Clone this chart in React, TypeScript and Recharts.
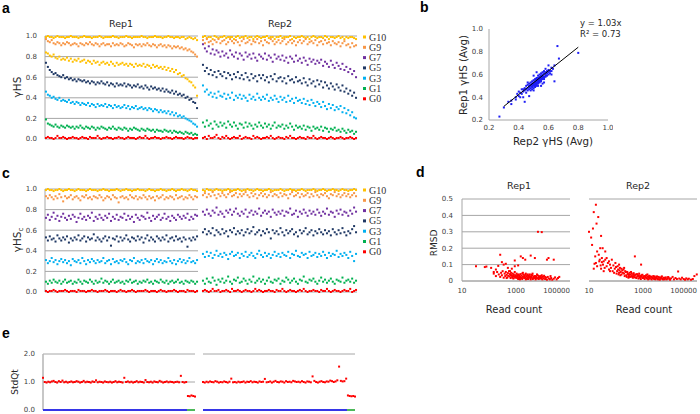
import React from "react";
import { ScatterChart, Scatter, XAxis, YAxis, CartesianGrid } from "recharts";

// ---- panel a / c: groups, colours ----
const groupLabels = ["G10", "G9", "G7", "G5", "G3", "G1", "G0"];
const groupColors = ["#FFC000", "#F79646", "#7030A0", "#1F3864", "#00B0F0", "#00B050", "#FF0000"];
// Rep1 in panel a draws G7 in the same gold as G10
const aRep1Colors = ["#FFC000", "#F79646", "#FFC000", "#1F3864", "#00B0F0", "#00B050", "#FF0000"];
const unitTicks = [0, 0.2, 0.4, 0.6, 0.8, 1.0];

// panel a, Rep1 (values x100, sorted genes left to right)
const a1G10 = [99,100,99,99,98,99,100,99,99,99, 98,99,99,100,99,99,99,98,99,99, 100,99,99,99,98,99,99,99,100,99, 98,99,99,99,99,100,99,99,98,99, 99,99,100,99,99,98,99,99,99,99, 100,99,99,98,99,99,99,100,99,99, 99,98,99,99,100,99,99,98,99,99, 98,99,99,97,98,99,98,97,98,96];
const a1G9 = [97,95,94,96,93,92,94,93,91,93, 92,94,93,91,92,93,92,90,93,92, 91,93,92,94,92,91,93,92,90,92, 93,91,92,92,90,93,91,92,91,93, 92,90,91,93,92,91,89,92,91,92, 90,92,91,93,91,90,92,91,89,91, 92,90,91,89,91,90,88,90,89,90, 88,89,87,88,86,87,85,84,82,80];
const a1G7 = [84,83,81,80,82,79,78,80,77,78, 77,79,76,78,75,77,76,78,75,76, 77,74,76,75,73,76,74,75,72,74, 75,73,74,72,75,73,71,74,72,73, 74,72,73,71,73,72,70,73,71,72, 71,73,70,72,71,69,72,70,71,69, 70,68,70,67,69,66,68,65,67,63, 64,61,62,59,58,56,55,52,50,42];
const a1G5 = [74,70,67,65,63,64,62,61,60,62, 59,60,58,59,57,58,56,58,57,56, 57,55,56,54,56,55,53,55,54,56, 54,53,55,52,54,53,51,54,52,53, 52,54,51,53,52,50,52,51,53,50, 51,49,52,50,48,51,49,50,48,49, 47,49,46,48,46,45,47,44,46,43, 44,42,43,40,41,38,39,36,35,30];
const a1G3 = [46,43,42,40,41,39,38,40,37,38, 37,36,38,35,36,34,36,35,33,35, 34,33,35,32,34,33,31,34,32,33, 32,34,31,33,32,30,33,31,32,30, 31,33,30,32,29,31,30,32,29,30, 31,29,30,28,30,29,27,29,28,26, 28,26,27,25,27,24,26,23,25,22, 23,21,22,20,19,18,17,15,14,12];
const a1G1 = [19,15,14,13,12,14,12,11,13,12, 11,13,12,11,12,10,12,11,13,11, 10,12,11,10,12,11,9,11,10,12, 11,10,9,11,10,12,10,9,11,10, 9,11,10,8,10,9,11,10,9,8, 10,9,8,10,9,8,9,7,9,8, 8,7,9,8,7,8,6,8,7,6, 7,6,5,7,6,5,6,4,5,4];
const a1G0 = [1,2,1,1,0,1,3,1,1,2, 1,0,1,1,2,1,1,0,1,2, 1,1,0,2,1,1,1,3,1,0, 1,1,2,1,1,0,1,1,2,1, 1,0,1,2,1,1,1,0,1,2, 1,1,3,1,0,1,1,2,1,1, 0,1,1,2,1,1,0,1,2,1, 1,1,0,1,2,1,1,0,1,1];

// panel a, Rep2
const a2G10 = [99,100,98,99,99,97,100,99,98,99, 99,100,98,99,99,99,97,99,100,98, 99,99,100,98,99,99,97,99,100,99, 98,99,99,100,98,99,99,97,99,99, 100,98,99,99,99,100,97,99,98,99, 99,100,99,98,99,97,99,100,99,98, 99,99,98,100,99,97,99,99,98,99, 100,98,99,97,99,98,99,99,98,97];
const a2G9 = [96,93,97,94,95,92,96,94,97,93, 95,96,92,94,97,95,93,96,94,91, 95,97,93,94,96,92,95,94,97,93, 95,91,96,94,93,97,95,92,94,96, 93,95,97,92,94,96,93,95,91,94, 96,93,95,97,92,94,95,93,96,91, 94,95,92,96,93,94,91,95,93,92, 94,90,93,95,91,92,89,93,90,91];
const a2G7 = [92,88,85,90,83,87,82,86,84,80, 85,81,83,79,86,82,80,84,78,83, 81,77,84,80,82,78,83,79,76,82, 80,78,83,77,81,79,75,82,78,80, 77,81,76,79,74,80,78,75,81,76, 78,74,79,76,72,78,75,77,73,76, 74,77,71,75,73,70,76,72,69,74, 71,68,73,67,70,65,68,63,66,60];
const a2G5 = [72,66,69,63,67,62,65,60,66,63, 61,65,59,64,62,58,63,60,65,59, 62,58,64,60,57,63,59,61,56,62, 59,62,57,60,55,61,58,63,56,59, 60,56,59,54,61,57,58,55,60,56, 57,54,59,55,52,58,54,56,51,57, 53,56,50,55,52,49,54,51,48,53, 50,47,52,46,49,44,47,42,45,40];
const a2G3 = [52,46,48,43,45,41,44,40,46,42, 41,44,39,43,40,45,38,42,40,43, 39,42,40,37,43,39,41,38,44,40, 38,41,39,43,37,40,38,42,39,36, 41,38,40,36,42,37,39,35,40,37, 38,35,39,34,37,33,38,35,32,36, 34,31,36,32,29,34,30,33,28,31, 29,32,26,30,25,28,23,26,21,20];
const a2G1 = [16,12,18,13,15,10,17,14,12,16, 13,15,11,17,14,12,16,13,10,15, 14,11,16,12,15,13,10,14,12,16, 13,11,15,12,14,10,13,16,11,13, 12,14,10,13,11,15,12,9,13,11, 12,10,13,9,12,11,8,12,10,11, 9,12,8,11,10,7,10,9,11,8, 9,7,10,8,6,9,7,8,5,7];
const a2G0 = [1,2,0,3,1,1,2,4,1,0, 2,1,3,1,0,1,2,1,1,3, 0,1,2,1,1,0,3,1,2,1, 0,1,1,2,1,3,1,0,1,2, 1,1,0,2,1,3,1,1,0,1, 2,1,1,0,2,1,1,3,1,0, 1,2,1,1,0,1,2,1,0,1, 1,2,1,0,1,1,2,1,0,1];

// panel c, Rep1 (corrected)
const c1G10 = [99,100,99,99,98,99,99,100,99,98, 99,99,100,99,99,98,99,100,99,99, 99,98,99,100,99,99,99,98,99,99, 100,99,99,98,99,99,99,100,99,98, 99,99,100,99,99,98,99,99,100,99, 99,99,98,99,100,99,99,98,99,99, 100,99,99,98,99,99,100,99,98,99, 99,100,99,99,98,99,100,99,99,98];
const c1G9 = [93,91,94,92,90,93,91,95,92,88, 93,91,92,94,90,92,93,91,89,93, 92,94,91,92,90,93,92,91,94,92, 89,91,93,92,90,94,92,91,87,92, 93,91,92,90,94,92,91,93,90,92, 91,94,92,90,93,91,92,89,93,91, 92,94,90,92,91,93,92,90,94,91, 92,93,90,92,91,94,92,90,93,92];
const c1G7 = [72,75,70,73,77,71,74,69,73,76, 72,70,74,71,75,73,68,72,76,71, 73,70,74,72,77,69,73,71,75,72, 70,74,72,76,69,73,71,75,70,73, 72,76,70,74,71,73,68,75,72,70, 74,73,71,77,72,69,74,71,73,75, 70,72,76,71,73,69,74,72,70,75, 73,71,74,72,76,70,73,71,75,74];
const c1G5 = [53,50,54,51,52,49,55,52,50,53, 51,54,48,52,50,53,51,55,50,52, 54,49,53,51,52,56,50,53,51,49, 52,54,50,53,45,52,51,54,49,53, 50,52,55,51,49,53,52,50,54,51, 53,48,52,55,50,53,51,49,54,52, 50,53,51,55,49,52,53,50,54,51, 52,49,53,51,44,52,50,53,51,54];
const c1G3 = [31,28,30,33,29,31,27,30,32,29, 31,28,30,26,32,30,29,31,28,33, 30,27,31,29,32,30,28,31,29,30, 33,28,30,31,27,32,29,30,28,31, 30,32,29,27,31,30,33,28,30,29, 31,28,32,30,29,31,27,30,32,29, 31,28,30,29,33,30,28,31,27,30, 32,29,31,28,30,33,29,30,28,31];
const c1G1 = [10,8,11,9,12,10,9,11,8,10, 12,9,10,11,8,10,9,12,10,8, 11,10,9,12,10,8,11,9,10,13, 9,11,10,8,10,12,9,10,11,9, 10,8,11,10,12,9,10,11,8,10, 9,11,10,12,9,10,8,11,10,9, 12,10,9,11,8,10,11,9,10,12, 9,10,8,11,10,9,11,10,8,10];
const c1G0 = [1,0,1,1,2,1,0,1,1,1, 2,1,0,1,1,1,0,2,1,1, 1,0,1,1,2,1,1,0,1,1, 1,2,1,0,1,1,1,0,1,2, 1,1,0,1,1,2,1,0,1,1, 1,1,2,1,0,1,1,1,0,1, 2,1,1,0,1,1,1,2,1,0, 1,1,1,0,2,1,1,1,0,1];

// panel c, Rep2
const c2G10 = [99,98,100,99,99,98,99,100,99,99, 98,99,99,100,99,98,99,99,100,99, 98,99,99,100,99,99,98,99,100,99, 99,98,99,99,100,99,98,99,99,99, 100,99,98,99,99,100,99,99,98,99, 99,100,99,98,99,99,99,100,99,98, 99,99,100,99,98,99,99,100,99,99, 98,99,100,99,99,98,99,99,100,99];
const c2G9 = [94,96,92,95,93,97,94,91,95,93, 96,94,92,95,97,93,94,96,92,95, 93,95,97,94,92,96,93,95,91,94, 96,93,95,92,94,97,93,95,94,92, 96,93,95,94,91,95,97,93,94,96, 92,95,93,94,96,92,95,93,97,94, 92,95,94,96,93,91,95,94,97,93, 95,92,94,96,93,95,92,94,96,93];
const c2G7 = [78,75,80,76,74,79,77,82,75,78, 76,73,79,77,80,75,78,81,76,74, 78,76,80,73,77,79,75,78,76,81, 74,77,79,76,78,73,80,77,75,78, 76,79,74,78,77,81,75,76,79,73, 78,76,80,77,74,79,76,78,75,80, 77,74,78,76,81,75,78,77,73,79, 76,80,75,78,77,74,79,76,82,78];
const c2G5 = [58,61,56,59,57,62,55,60,58,56, 61,57,59,54,60,58,62,56,59,57, 60,55,58,61,57,59,63,56,58,60, 55,59,57,61,58,52,60,57,59,56, 62,58,55,60,57,59,61,56,58,54, 60,57,59,62,56,58,60,55,59,57, 61,58,56,60,57,59,55,61,58,56, 60,57,62,58,55,59,57,61,64,58];
const c2G3 = [37,34,39,35,38,33,36,40,35,37, 34,38,36,32,37,39,35,36,38,33, 37,35,39,34,36,38,35,33,37,40, 36,34,38,35,37,33,36,39,35,37, 34,38,36,35,39,33,37,36,40,35, 34,38,36,37,33,39,35,36,38,34, 37,35,39,36,33,38,35,37,36,40, 34,37,35,38,36,33,39,35,30,37];
const c2G1 = [11,8,13,10,9,14,11,7,12,10, 13,9,11,15,10,8,12,11,14,9, 10,13,11,8,12,10,15,9,11,13, 10,12,8,11,14,10,9,12,11,13, 8,11,10,14,12,9,11,13,10,8, 12,11,15,10,9,12,11,13,10,8, 11,14,10,12,9,11,13,10,8,12, 11,10,14,9,11,12,10,13,9,11];
const c2G0 = [1,2,1,0,1,3,1,1,2,0, 1,1,2,1,0,3,1,1,2,1, 0,1,2,1,1,0,1,3,1,2, 1,0,1,1,2,1,1,0,2,1, 1,3,1,0,1,2,1,1,0,1, 2,1,3,1,0,1,1,2,1,1, 0,2,1,1,3,1,0,1,2,1, 1,0,1,2,1,1,3,0,1,2];

const aRep1 = [a1G10, a1G9, a1G7, a1G5, a1G3, a1G1, a1G0];
const aRep2 = [a2G10, a2G9, a2G7, a2G5, a2G3, a2G1, a2G0];
const cRep1 = [c1G10, c1G9, c1G7, c1G5, c1G3, c1G1, c1G0];
const cRep2 = [c2G10, c2G9, c2G7, c2G5, c2G3, c2G1, c2G0];
const GENE_COUNT = 80;

// ---- panel b: [Rep2 avg, Rep1 avg] x100 ----
const bAvgPairs = [
  [27,23],[30,31],[33,36],[35,37],[35,34],[38,40],[39,43],[40,45],[40,41],[41,44],
  [42,47],[42,43],[43,40],[43,45],[44,46],[44,48],[44,36],[45,47],[45,50],[45,44],
  [46,48],[46,46],[46,51],[47,49],[47,50],[47,47],[47,52],[48,50],[48,48],[48,53],
  [48,46],[48,51],[49,49],[49,52],[49,50],[49,54],[49,47],[49,51],[50,50],[50,53],
  [50,48],[50,55],[50,51],[50,52],[50,46],[51,54],[51,52],[51,53],[51,50],[51,56],
  [51,51],[51,49],[52,55],[52,53],[52,52],[52,57],[52,50],[52,54],[52,56],[52,51],
  [53,55],[53,53],[53,57],[53,54],[53,52],[53,59],[53,50],[53,56],[54,55],[54,58],
  [54,53],[54,56],[54,57],[54,60],[54,54],[55,57],[55,59],[55,56],[55,61],[55,55],
  [55,58],[55,54],[56,57],[56,60],[56,58],[56,62],[56,56],[56,59],[57,58],[57,61],
  [57,57],[57,63],[57,56],[58,60],[58,59],[58,62],[58,58],[59,61],[59,63],[59,59],
  [60,62],[60,60],[60,64],[61,63],[61,61],[62,63],[62,66],[63,65],[64,54],[64,68],
  [66,85],[67,74],[62,60],[58,65],[55,50],[46,53],[43,47],[50,59],[56,52],[60,68],
  [80,79],[47,41],[52,62],[57,53],[41,40],[38,38],
];
const bTrendX = [30, 80];
const bTrendY = [32, 84];
const bTicks = [0.2, 0.4, 0.6, 0.8, 1.0];

// ---- panel d: [read count, RMSD x1000] ----
const dRep1Pairs = [
  [33,90],[70,85],[80,88],[120,80],[150,55],[180,70],[220,92],[260,160],[300,115],[350,100],
  [420,105],[600,60],[900,125],[1500,150],[1800,140],[2200,130],[3500,155],[5000,140],[6500,300],[9000,298],
  [14000,130],[16000,140],[25000,130],[900,90],[1200,95],[700,75],[500,80],
  [150,45],[180,30],[200,55],[230,40],[260,25],[280,50],[300,35],[320,60],[350,20],[380,45],[400,30],
  [420,55],[450,38],[480,22],[500,48],[520,32],[550,60],[580,28],[600,42],[630,18],[660,50],[700,35],
  [720,25],[750,45],[780,30],[800,15],[830,40],[860,28],[900,55],[930,20],[960,35],[1000,25],[1050,45],
  [1100,18],[1150,30],[1200,40],[1250,22],[1300,35],[1350,15],[1400,28],[1450,42],[1500,20],[1600,32],
  [1700,12],[1800,25],[1900,38],[2000,18],[2100,30],[2200,22],[2300,45],[2400,15],[2500,28],[2600,35],
  [2700,20],[2800,12],[2900,30],[3000,24],[3200,40],[3400,16],[3600,28],[3800,20],[4000,35],[4200,12],
  [4400,25],[4600,18],[4800,30],[5000,22],[5300,10],[5600,28],[6000,15],[6300,35],[6600,20],[7000,12],
  [7400,25],[7800,18],[8200,30],[8600,14],[9000,22],[9500,10],[10000,26],[10500,16],[11000,32],[12000,12],
  [13000,20],[14000,8],[15000,25],[16500,15],[18000,10],[20000,18],[22000,8],[25000,14],[28000,22],[32000,10],
  [36000,18],[40000,25],[1100,35],[1300,22],[1600,18],[2000,28],[2500,14],[3000,32],[3500,10],[4500,20],
  [5500,18],[7000,30],[8500,20],[1700,45],[2200,38],[900,28],[650,35],[1400,10],[2700,40],[6000,40],
  [9000,35],[12000,24],[2300,10],[3300,22],[4100,45],[750,20],[1200,12],[19000,30],[450,18],[1800,50],
  [3700,38],[5200,30],
];
const dRep2Pairs = [
  [10,300],[12,265],[13,220],[14,320],[15,420],[17,150],[18,465],[19,350],[20,180],[22,390],
  [24,120],[26,200],[28,275],[30,140],[16,105],[15,75],[18,110],[20,90],[23,160],[25,130],
  [27,95],[30,115],[33,100],[35,120],[38,80],[40,130],[45,90],[50,110],[55,70],[60,100],
  [65,80],[70,130],[75,60],[80,95],[90,75],[100,85],[110,60],[120,70],[130,50],[140,80],
  [150,55],[160,40],[170,65],[180,50],[200,45],[220,60],[240,35],[260,55],[280,40],[300,30],
  [320,50],[350,38],[380,45],[400,25],[430,40],[460,30],[500,150],[500,35],[550,22],[600,42],
  [650,28],[700,35],[750,20],[800,30],[850,100],[900,25],[950,38],[1000,18],[1100,30],[1200,22],
  [1300,35],[1400,15],[1500,28],[1600,20],[1700,32],[1800,14],[2000,25],[2200,18],[2400,30],[2600,12],
  [2800,22],[3000,16],[3300,28],[3600,10],[4000,20],[4400,14],[4800,25],[5200,12],[5700,18],[6200,10],
  [7000,22],[8000,14],[9000,20],[10000,8],[11000,16],[12500,25],[14000,10],[16000,18],[18000,12],[20000,58],
  [22000,15],[25000,10],[28000,20],[32000,12],[36000,8],[40000,16],[45000,10],[50000,14],[60000,8],[70000,12],
  [80000,30],[98000,40],
  [60,60],[85,50],[95,110],[105,45],[115,90],[125,40],[135,65],[145,35],[190,70],[210,30],
  [230,55],[250,25],[270,45],[290,20],[310,40],[330,25],[360,55],[390,30],[420,20],[450,48],
  [480,22],[520,40],[570,18],[620,30],[680,15],[720,45],[780,25],[830,12],[880,35],[1050,25],
  [1150,12],[1250,30],[1350,20],[1450,40],[1550,10],[1650,25],[1750,18],[1900,28],[2100,10],[2300,22],
  [2500,16],[2700,28],[2900,10],[3200,20],[3500,14],[3800,25],[4200,8],[4600,18],[5000,28],[5500,10],
  [6000,20],[6600,14],[7500,10],[8500,24],[9500,12],[40,180],[35,60],[45,140],[55,120],[32,200],
  [28,75],[130,100],[160,75],[200,80],
];
const dXTicks = [10, 1000, 100000];
const dYTicks = [0, 0.1, 0.2, 0.3, 0.4, 0.5];

// ---- panel e: StdQt x100 ----
const eRep1 = [
  115,100,98,101,99,102,104,100,98,103,100,105,99,101,98,100,102,99,100,103,
  101,98,100,104,99,101,100,98,102,100,106,99,101,100,98,102,100,99,101,98,
  100,103,99,101,100,98,115,100,102,99,101,98,100,103,99,101,100,98,107,100,
  99,101,98,102,100,99,104,101,98,100,102,99,101,100,98,100,101,99,122,100,
  98,100, 50,49,52,50,48,
];
const eRep2 = [
  100,98,101,99,102,100,99,103,101,98,100,99,102,100,98,101,112,99,100,98,
  101,99,100,102,98,101,100,103,99,101,100,98,102,100,101,111,99,100,102,98,
  101,104,100,99,102,101,98,103,100,101,99,104,102,100,101,99,103,100,98,102,
  101,99,120,104,100,98,101,103,100,99,102,101,105,103,100,102,106,155,104,102,
  103,112, 52,50,49,50,48,
];
const eSegments = [0, 81.5, 86]; // blue class up to the break, green after
const eTicks = [0, 1, 2];

// ---- helpers ----
const GRID = "#A6A6A6";
const SANS = "DejaVu Sans";
const tickStyle = { fontSize: 7, fill: "#404040", fontFamily: SANS };
const f1 = (v: number) => v.toFixed(1);

const square = (color: string, size = 2) => (p: any) => (
  <rect x={p.cx - size / 2} y={p.cy - size / 2} width={size} height={size} fill={color} />
);
const noShape = () => <g />;
const toPoints = (vals: number[], div = 100) => vals.map((v, i) => ({ x: i, y: v / div }));
const pairPoints = (pairs: number[][], xd: number, yd: number) =>
  pairs.map(([x, y]) => ({ x: x / xd, y: y / yd }));

function GroupPanel({ left, top, series, colors, first }: any) {
  const yw = first ? 45 : 0;
  const ml = first ? 0 : 2;
  const pw = first ? 153 : 155;
  return (
    <div style={{ position: "absolute", left, top }}>
      <ScatterChart width={ml + yw + pw + 2} height={118} margin={{ top: 10, right: 2, bottom: 5, left: ml }}>
        <CartesianGrid vertical={false} stroke={GRID} />
        <XAxis type="number" dataKey="x" domain={[-0.5, GENE_COUNT - 0.5]} hide />
        <YAxis
          type="number" dataKey="y" domain={[0, 1]} ticks={unitTicks} interval={0}
          width={yw} tick={first ? tickStyle : false} tickFormatter={f1}
          tickLine={false} tickSize={0} tickMargin={8} axisLine={{ stroke: GRID }}
        />
        {series.map((vals: number[], i: number) => (
          <Scatter key={i} data={toPoints(vals)} fill={colors[i]} shape={square(colors[i])} isAnimationActive={false} />
        ))}
      </ScatterChart>
    </div>
  );
}

const logTick = (p: any) => {
  const v = p.payload.value;
  return (
    <text x={p.x} y={p.y} dy="0.71em" textAnchor={v === 100000 ? "end" : "middle"} {...tickStyle}>
      {v}
    </text>
  );
};

function RmsdPanel({ left, ml, first, pairs }: any) {
  const yw = first ? 40 : 0;
  return (
    <div style={{ position: "absolute", left, top: 189 }}>
      <ScatterChart width={ml + yw + 108 + 2} height={108} margin={{ top: 10, right: 2, bottom: 0, left: ml }}>
        <CartesianGrid vertical={false} stroke={GRID} />
        <XAxis
          type="number" dataKey="x" scale="log" domain={[10, 100000]} ticks={dXTicks} interval={0}
          height={16} tick={logTick} tickLine={false} tickSize={0} tickMargin={7} axisLine={{ stroke: GRID }}
        />
        <YAxis
          type="number" dataKey="y" domain={[0, 0.5]} ticks={dYTicks} interval={0}
          width={yw} tick={first ? tickStyle : false} tickFormatter={(v: number) => (v === 0 ? "0" : f1(v))}
          tickLine={false} tickSize={0} tickMargin={9} axisLine={{ stroke: GRID }}
        />
        <Scatter data={pairPoints(pairs, 1, 1000)} shape={square("#FF0000")} isAnimationActive={false} />
      </ScatterChart>
    </div>
  );
}

function StdQtPanel({ left, ml, first, values }: any) {
  const yw = first ? 43 : 0;
  const blue = [{ x: eSegments[0], y: 0 }, { x: eSegments[1], y: 0 }];
  const green = [{ x: eSegments[1], y: 0 }, { x: eSegments[2], y: 0 }];
  return (
    <div style={{ position: "absolute", left, top: 344 }}>
      <ScatterChart width={ml + yw + 152 + 2} height={69} margin={{ top: 10, right: 2, bottom: 3, left: ml }}>
        <CartesianGrid vertical={false} stroke={GRID} />
        <XAxis type="number" dataKey="x" domain={[0, values.length - 1]} hide />
        <YAxis
          type="number" dataKey="y" domain={[0, 2]} ticks={eTicks} interval={0}
          width={yw} tick={first ? tickStyle : false} tickFormatter={f1}
          tickLine={false} tickSize={0} tickMargin={8} axisLine={{ stroke: "#B4B4B4", strokeWidth: 1.5 }}
        />
        <Scatter data={toPoints(values)} shape={square("#FF0000")} isAnimationActive={false} />
        <Scatter data={blue} line={{ stroke: "#3636E8", strokeWidth: 2 }} stroke="#3636E8" shape={noShape} isAnimationActive={false} />
        <Scatter data={green} line={{ stroke: "#4DB85A", strokeWidth: 2 }} stroke="#4DB85A" shape={noShape} isAnimationActive={false} />
      </ScatterChart>
    </div>
  );
}

function Legend({ top }: { top: number }) {
  return (
    <g>
      {groupLabels.map((g, i) => (
        <g key={g}>
          <rect x={363} y={top + i * 10.3 - 1.5} width={3} height={3} fill={groupColors[i]} />
          <text x={369} y={top + i * 10.3 + 3.5} fontFamily="Liberation Serif" fontSize={10} fill="#333">
            {g}
          </text>
        </g>
      ))}
    </g>
  );
}

export default function App() {
  const letter = { fontFamily: "Liberation Sans", fontWeight: 700, fontSize: 14, fill: "#000" } as const;
  const label = { fontFamily: SANS, fontSize: 9.5, fill: "#262626" } as const;
  const trend = bTrendX.map((x, i) => ({ x: x / 100, y: bTrendY[i] / 100 }));
  return (
    <div style={{ position: "absolute", left: 0, top: 0, width: 700, height: 414, background: "#fff" }}>
      <GroupPanel left={0} top={26} series={aRep1} colors={aRep1Colors} first />
      <GroupPanel left={200} top={26} series={aRep2} colors={groupColors} />
      <GroupPanel left={0} top={179} series={cRep1} colors={groupColors} first />
      <GroupPanel left={200} top={179} series={cRep2} colors={groupColors} />

      <div style={{ position: "absolute", left: 449, top: 19 }}>
        <ScatterChart width={164} height={115} margin={{ top: 10, right: 5, bottom: 0, left: 0 }}>
          <XAxis
            type="number" dataKey="x" domain={[0.2, 1]} ticks={bTicks} interval={0} height={14}
            tick={tickStyle} tickFormatter={f1} tickLine={false} tickSize={0} tickMargin={5} axisLine={{ stroke: GRID }}
          />
          <YAxis
            type="number" dataKey="y" domain={[0.2, 1]} ticks={bTicks} interval={0} width={40}
            tick={tickStyle} tickFormatter={f1} tickLine={false} tickSize={0} tickMargin={6} axisLine={{ stroke: GRID }}
          />
          <Scatter data={pairPoints(bAvgPairs, 100, 100)} shape={square("#1E1EF5")} isAnimationActive={false} />
          <Scatter data={trend} line={{ stroke: "#000", strokeWidth: 1 }} shape={noShape} isAnimationActive={false} />
        </ScatterChart>
      </div>

      <RmsdPanel left={422} ml={0} first pairs={dRep1Pairs} />
      <RmsdPanel left={577} ml={12} pairs={dRep2Pairs} />

      <StdQtPanel left={0} ml={0} first values={eRep1} />
      <StdQtPanel left={201} ml={2} values={eRep2} />

      <svg width={700} height={414} style={{ position: "absolute", left: 0, top: 0, pointerEvents: "none" }}>
        <text x={2} y={13} style={letter}>a</text>
        <text x={121} y={27} textAnchor="middle" style={label}>Rep1</text>
        <text x={280} y={27} textAnchor="middle" style={label}>Rep2</text>
        <text transform="translate(21,87) rotate(-90)" textAnchor="middle" style={{ ...label, fontSize: 10.5 }}>γHS</text>
        <Legend top={37} />

        <text x={420} y={12} style={letter}>b</text>
        <text transform="translate(467,75) rotate(-90)" textAnchor="middle" style={{ ...label, fontSize: 10.3 }}>Rep1 γHS (Avg)</text>
        <text x={553} y={145} textAnchor="middle" style={{ ...label, fontSize: 10.3 }}>Rep2 γHS (Avg)</text>
        <text x={580} y={26} style={{ ...label, fontSize: 8.5 }}>y = 1.03x</text>
        <text x={580} y={37} style={{ ...label, fontSize: 8.5 }}>R² = 0.73</text>

        <text x={2} y={178} style={letter}>c</text>
        <text transform="translate(21,240) rotate(-90)" textAnchor="middle" style={{ ...label, fontSize: 10.5 }}>
          γHS<tspan fontSize={7} dy={2}>c</tspan>
        </text>
        <Legend top={190} />

        <text x={416} y={177} style={letter}>d</text>
        <text x={519} y={189} textAnchor="middle" style={label}>Rep1</text>
        <text x={638} y={189} textAnchor="middle" style={label}>Rep2</text>
        <text transform="translate(437,243) rotate(-90)" textAnchor="middle" style={{ ...label, fontSize: 9 }}>RMSD</text>
        <text x={514} y={313} textAnchor="middle" style={{ ...label, fontSize: 10 }}>Read count</text>
        <text x={644} y={313} textAnchor="middle" style={{ ...label, fontSize: 10 }}>Read count</text>

        <text x={2} y={338} style={letter}>e</text>
        <text transform="translate(18,382) rotate(-90)" textAnchor="middle" style={{ ...label, fontSize: 9 }}>StdQt</text>
      </svg>
    </div>
  );
}
